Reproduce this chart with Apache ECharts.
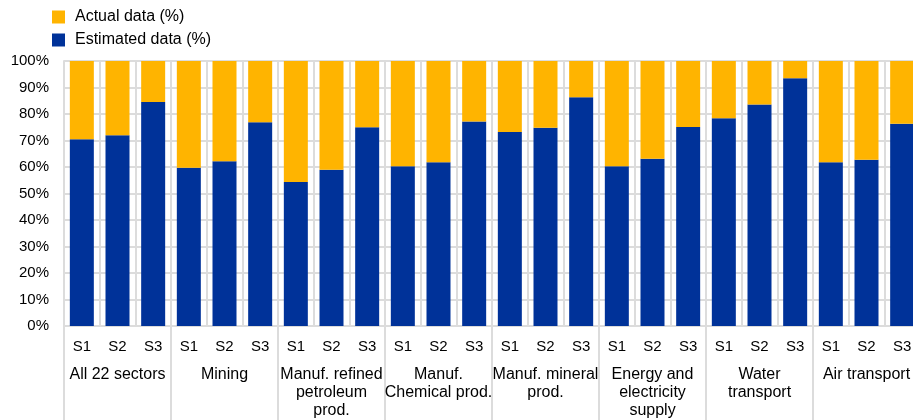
<!DOCTYPE html>
<html><head><meta charset="utf-8">
<script src="https://cdn.jsdelivr.net/npm/echarts@6/dist/echarts.min.js"></script>
<style>html,body{margin:0;padding:0;background:#fff;overflow:hidden}#c{width:922px;height:420px}</style>
</head><body><div id="c"></div>
<script>
var groups = ['All 22 sectors','Mining','Manuf. refined\npetroleum\nprod.','Manuf.\nChemical prod.','Manuf. mineral\nprod.','Energy and\nelectricity\nsupply','Water\ntransport','Air transport'];
var scenarios = ['S1','S2','S3'];
var estimated = [70.5,72.0,84.5, 59.7,62.2,76.9, 54.3,59.0,75.0, 60.3,61.8,77.2, 73.2,74.8,86.3, 60.3,63.1,75.1, 78.4,83.6,93.5, 61.8,62.7,76.3];
var actual = estimated.map(function(v){return +(100 - v).toFixed(1);});
var yTicks = [0,10,20,30,40,50,60,70,80,90,100];

var cats = [];
groups.forEach(function(g){ scenarios.forEach(function(s){ cats.push(s); }); });
var font = 'Liberation Sans, Arial, sans-serif';
var grid = '#dcdcdc';
var chart = echarts.init(document.getElementById('c'));
chart.setOption({
  animation:false,
  textStyle:{fontFamily:font},
  legend:{orient:'vertical',left:47,top:4,itemWidth:13,itemHeight:13,itemGap:7,
    textStyle:{fontSize:16,color:'#000',fontFamily:font,padding:[0,0,0,5]},
    data:['Actual data (%)','Estimated data (%)'],icon:'rect'},
  grid:{left:64,top:61,bottom:94,width:856,containLabel:false},
  xAxis:[{
    type:'category',data:cats,position:'bottom',
    axisLine:{show:true,lineStyle:{color:grid,width:2}},
    axisTick:{show:false},
    splitLine:{show:true,interval:0,lineStyle:{color:grid,width:2}},
    axisLabel:{interval:0,margin:13,fontSize:15,color:'#000',fontFamily:font}
  },{
    type:'category',data:groups,position:'bottom',
    axisLine:{show:false},
    axisTick:{show:true,length:94,inside:false,lineStyle:{color:grid,width:2}},
    splitLine:{show:false},
    axisLabel:{interval:0,margin:40,fontSize:16,lineHeight:18,color:'#000',fontFamily:font,align:'center'}
  }],
  yAxis:{type:'value',min:0,max:100,interval:10,
    axisLine:{show:true,lineStyle:{color:grid,width:2}},
    axisTick:{show:false},
    splitLine:{show:true,lineStyle:{color:grid,width:2}},
    axisLabel:{formatter:function(v){return yTicks.indexOf(v)>=0? v+'%':'';},margin:15,fontSize:15,color:'#000',fontFamily:font}
  },
  series:[
    {name:'Estimated data (%)',type:'bar',stack:'a',data:estimated,barWidth:24,itemStyle:{color:'#003299'}},
    {name:'Actual data (%)',type:'bar',stack:'a',data:actual,barWidth:24,itemStyle:{color:'#FFB400'}}
  ]
});
</script></body></html>
